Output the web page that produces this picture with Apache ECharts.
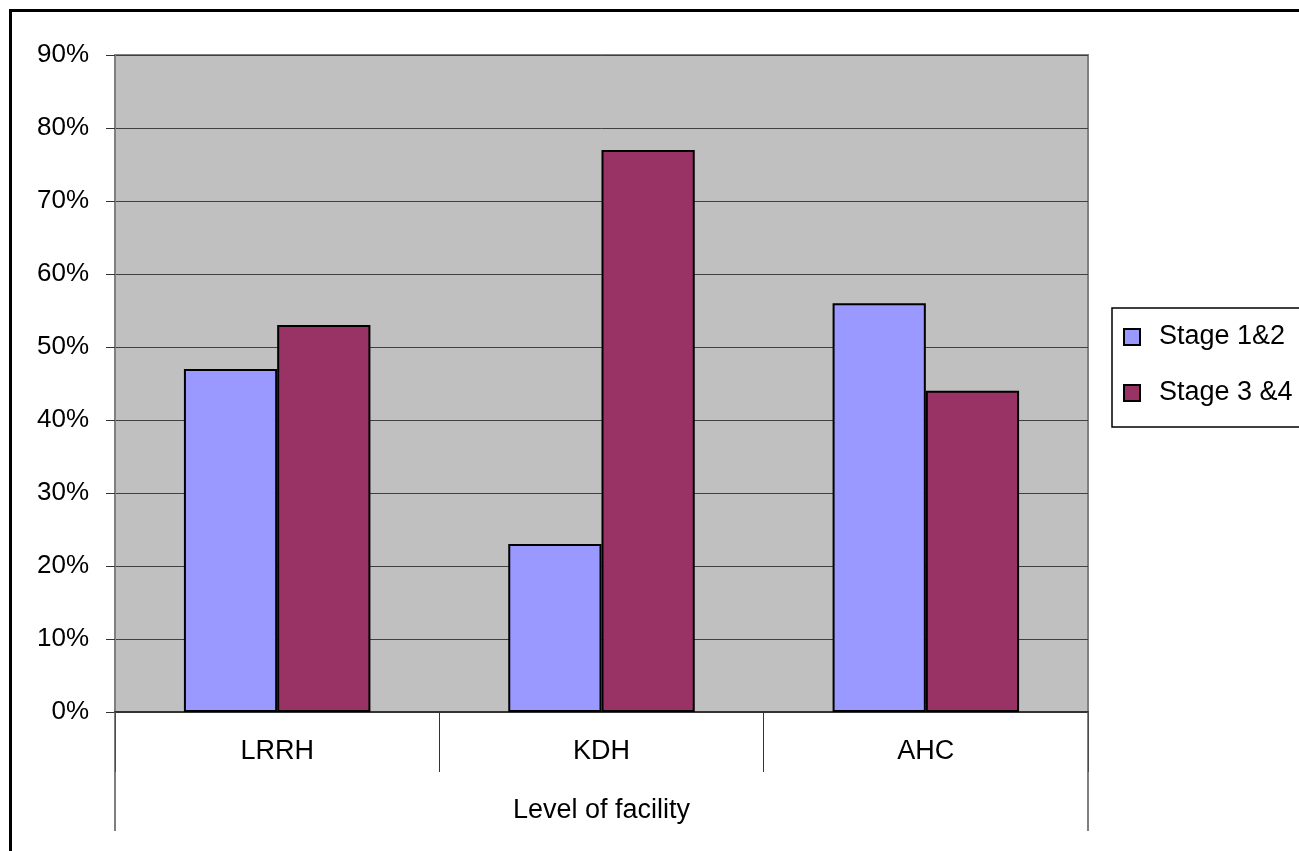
<!DOCTYPE html>
<html>
<head>
<meta charset="utf-8">
<script src="https://cdn.jsdelivr.net/npm/echarts@6/dist/echarts.min.js"></script>
<style>
html,body{margin:0;padding:0;background:#fff;}
#chart{width:1299px;height:851px;}
</style>
</head>
<body>
<div id="chart"></div>
<script>
const categories = ['LRRH', 'KDH', 'AHC'];
const outerCategory = ['Level of facility'];
const seriesNames = ['Stage 1&2', 'Stage 3 &4'];
const stage12 = [0.47, 0.23, 0.56];
const stage34 = [0.53, 0.77, 0.44];
const yTicks = { min: 0, max: 0.9, interval: 0.1 };

const FONT = 'Arial, "Liberation Sans", sans-serif';
const chart = echarts.init(document.getElementById('chart'), null, { renderer: 'canvas' });

chart.setOption({
  backgroundColor: '#ffffff',
  animation: false,
  textStyle: { fontFamily: FONT, color: '#000' },
  graphic: [{
    type: 'rect',
    shape: { x: 10.5, y: 10.5, width: 1400, height: 1000 },
    style: { fill: 'none', stroke: '#000', lineWidth: 3 },
    silent: true
  }],
  grid: {
    left: 115, right: 211, top: 55, bottom: 139,
    show: true,
    backgroundColor: '#c0c0c0',
    borderColor: '#808080',
    borderWidth: 2
  },
  legend: {
    data: seriesNames,
    orient: 'vertical',
    left: 1112,
    top: 308,
    padding: [14, 30, 19, 11],
    itemGap: 26,
    itemWidth: 16,
    itemHeight: 16,
    icon: 'rect',
    borderColor: '#000',
    borderWidth: 1.5,
    backgroundColor: '#fff',
    itemStyle: { borderColor: '#000', borderWidth: 2 },
    textStyle: { fontFamily: FONT, fontSize: 27, color: '#000', lineHeight: 30, padding: [0, 0, 0, 14] }
  },
  xAxis: [{
    type: 'category',
    data: categories,
    position: 'bottom',
    axisLine: { show: true, lineStyle: { color: '#333', width: 2 } },
    axisTick: { show: true, length: 60, lineStyle: { color: '#333', width: 1 } },
    axisLabel: { margin: 26, fontSize: 27, fontFamily: FONT, color: '#000' },
    splitLine: { show: false }
  }, {
    type: 'category',
    data: outerCategory,
    position: 'bottom',
    axisLine: { show: false },
    axisTick: { show: true, length: 119, lineStyle: { color: '#555', width: 1.5 } },
    axisLabel: { margin: 85, fontSize: 27, fontFamily: FONT, color: '#000' },
    splitLine: { show: false }
  }],
  yAxis: {
    type: 'value',
    min: yTicks.min,
    max: yTicks.max,
    interval: yTicks.interval,
    axisLine: { show: true, lineStyle: { color: '#808080', width: 2 } },
    axisTick: { show: true, length: 9, lineStyle: { color: '#333', width: 1 } },
    axisLabel: {
      margin: 26, fontSize: 26, fontFamily: FONT, color: '#000',
      formatter: v => Math.round(v * 100) + '%'
    },
    splitLine: { show: true, lineStyle: { color: '#404040', width: 1 } }
  },
  series: [{
    name: seriesNames[0],
    type: 'bar',
    data: stage12,
    xAxisIndex: 0,
    barGap: '0%',
    barCategoryGap: '42.5%',
    itemStyle: { color: '#9999ff', borderColor: '#000', borderWidth: 2 }
  }, {
    name: seriesNames[1],
    type: 'bar',
    data: stage34,
    xAxisIndex: 0,
    barGap: '0%',
    barCategoryGap: '42.5%',
    itemStyle: { color: '#993366', borderColor: '#000', borderWidth: 2 }
  }]
});
</script>
</body>
</html>
